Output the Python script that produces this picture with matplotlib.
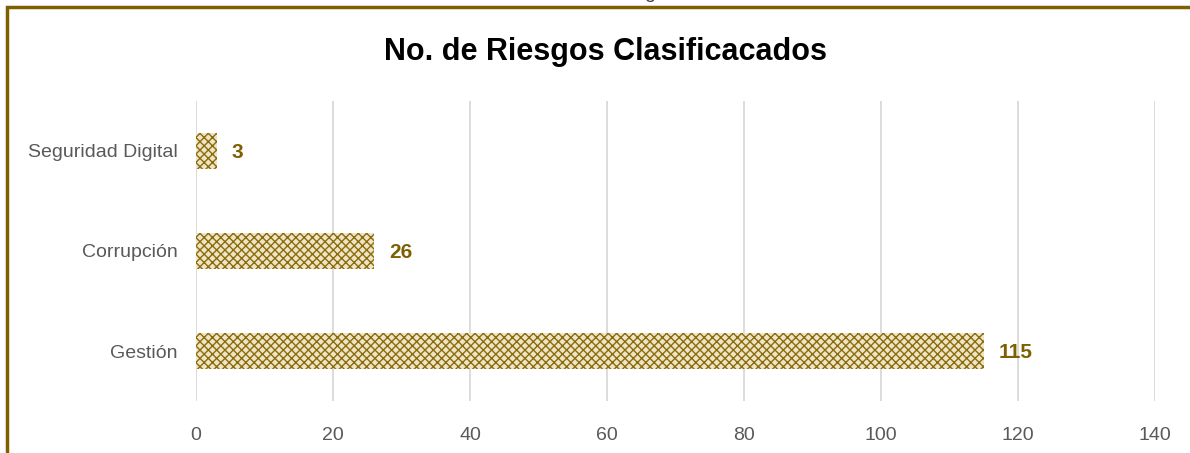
import matplotlib
matplotlib.use("Agg")
import matplotlib.pyplot as plt
from matplotlib.patches import Rectangle

# datos
categorias = ["Gestión", "Corrupción", "Seguridad Digital"]
valores = [115, 26, 3]
x_ticks = [0, 20, 40, 60, 80, 100, 120, 140]

oro = "#7F6000"
gris = "#595959"

plt.rcParams['font.family'] = ['Liberation Sans Narrow', 'Liberation Sans', 'DejaVu Sans']
plt.rcParams['hatch.linewidth'] = 1.0

fig = plt.figure(figsize=(11.9, 4.53), dpi=100)
ax = fig.add_axes([196 / 1190, 1 - 401 / 453, 959 / 1190, 300 / 453])

barras = ax.barh(range(len(categorias)), valores, height=0.355,
                 color="#EFE5C6", edgecolor="#8A6C0C", hatch="xxxx", linewidth=0)
for i, v in enumerate(valores):
    ax.text(v + 2.2, i - 0.02, str(v), va="center", ha="left", fontsize=15,
            fontweight="bold", color=oro)

ax.set_xlim(0, 140)
ax.set_ylim(-0.5, 2.5)
ax.set_xticks(x_ticks)
ax.set_yticks(range(len(categorias)))
ax.set_yticklabels(categorias)
ax.tick_params(axis="both", length=0, labelsize=14, labelcolor=gris)
ax.tick_params(axis="y", pad=13)
ax.tick_params(axis="x", pad=19)
ax.grid(axis="x", color="#D9D9D9", linewidth=1.3)
ax.set_axisbelow(True)
for s in ax.spines.values():
    s.set_visible(False)

fig.text(605 / 1190, 1 - 52 / 453, "No. de Riesgos Clasificacados", ha="center",
         va="center", fontsize=22, fontweight="bold", color="black")

# titulo de la grafica cortado arriba
fig.text(605 / 1190, 1 - 2 / 453, "Gráfica No. 1 No. de Riesgos Clasificados", ha="center",
         va="bottom", fontsize=14, color="#404040")

# marco
fig.patches.append(Rectangle((7 / 1190, -0.1), 1.2, 1 - 7 / 453 + 0.1,
                             transform=fig.transFigure, fill=False,
                             edgecolor=oro, linewidth=2.5))

plt.savefig("out.png", dpi=100)
plt.close()
